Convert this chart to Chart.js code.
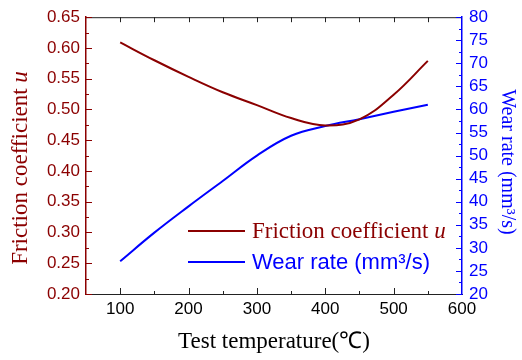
<!DOCTYPE html>
<html>
<head>
<meta charset="utf-8">
<script src="https://cdn.jsdelivr.net/npm/chart.js@4.4.0/dist/chart.umd.min.js"></script>
<style>
    html, body { margin: 0; padding: 0; background: #fff; }
    #chart { display: block; }
</style>
</head>
<body>
<canvas id="chart" width="522" height="360"></canvas>
<script>
// 数据
const temperatures = [100, 150, 200, 250, 300, 350, 400, 450, 500, 550];
const friction = [0.609, 0.580, 0.553, 0.528, 0.507, 0.486, 0.474, 0.484, 0.524, 0.579];
const wearRate = [27.1, 33.3, 39.0, 44.5, 50.0, 54.3, 56.4, 57.9, 59.5, 61.0];

const xTicks = [100, 200, 300, 400, 500, 600];
const frictionTicks = [0.20, 0.25, 0.30, 0.35, 0.40, 0.45, 0.50, 0.55, 0.60, 0.65];
const wearTicks = [20, 25, 30, 35, 40, 45, 50, 55, 60, 65, 70, 75, 80];

const RED = '#8b0000';
const BLUE = '#0000ff';
const SERIF = '"Liberation Serif", "Times New Roman", serif';
const SANS = '"Liberation Sans", Arial, sans-serif';

function setTicks(values) {
    return function(scale) {
        scale.ticks = values.map(v => ({ value: v }));
    };
}

// 刻度线、顶部边框、标题和图例
const decorations = {
    id: 'decorations',
    afterDraw(chart) {
        const ctx = chart.ctx;
        const area = chart.chartArea;
        const x = chart.scales.x;
        const y = chart.scales.y;
        const y1 = chart.scales.y1;

        ctx.save();
        ctx.lineWidth = 1;

        // 顶部边框
        ctx.strokeStyle = '#222';
        ctx.beginPath();
        ctx.moveTo(area.left, area.top + 0.5);
        ctx.lineTo(area.right, area.top + 0.5);
        ctx.stroke();

        // x轴刻度（底部和顶部，向内）
        for (let v = 100; v < 600; v += 50) {
            const px = Math.round(x.getPixelForValue(v)) + 0.5;
            const major = v % 100 === 0;
            ctx.strokeStyle = '#222';
            ctx.beginPath();
            ctx.moveTo(px, area.bottom);
            ctx.lineTo(px, area.bottom - (major ? 6 : 3));
            ctx.moveTo(px, area.top);
            ctx.lineTo(px, area.top + 5);
            ctx.stroke();
        }

        // 左轴刻度
        ctx.strokeStyle = RED;
        for (let i = 0; i < frictionTicks.length * 2 - 1; i++) {
            const v = frictionTicks[0] + i * 0.025;
            const py = Math.round(y.getPixelForValue(v)) + 0.5;
            ctx.beginPath();
            ctx.moveTo(area.left, py);
            ctx.lineTo(area.left + (i % 2 === 0 ? 6 : 3), py);
            ctx.stroke();
        }

        // 右轴刻度
        ctx.strokeStyle = BLUE;
        for (let i = 0; i < wearTicks.length * 2 - 1; i++) {
            const v = wearTicks[0] + i * 2.5;
            const py = Math.round(y1.getPixelForValue(v)) + 0.5;
            ctx.beginPath();
            ctx.moveTo(area.right, py);
            ctx.lineTo(area.right - (i % 2 === 0 ? 6 : 3), py);
            ctx.stroke();
        }

        // x轴标题
        ctx.fillStyle = '#000';
        ctx.font = '23px ' + SERIF;
        ctx.textAlign = 'center';
        ctx.textBaseline = 'middle';
        ctx.fillText('Test temperature(℃)', (area.left + area.right) / 2, 342);

        // 左轴标题（u 为斜体）
        ctx.fillStyle = RED;
        ctx.textAlign = 'left';
        ctx.textBaseline = 'alphabetic';
        ctx.translate(27, 168);
        ctx.rotate(-Math.PI / 2);
        ctx.font = '23px ' + SERIF;
        const part1 = 'Friction coefficient ';
        const w1 = ctx.measureText(part1).width;
        ctx.font = 'italic 23px ' + SERIF;
        const w2 = ctx.measureText('u').width;
        ctx.font = '23px ' + SERIF;
        ctx.fillText(part1, -(w1 + w2) / 2, 0);
        ctx.font = 'italic 23px ' + SERIF;
        ctx.fillText('u', -(w1 + w2) / 2 + w1, 0);
        ctx.setTransform(1, 0, 0, 1, 0, 0);

        // 右轴标题
        ctx.fillStyle = BLUE;
        ctx.font = '20px ' + SERIF;
        ctx.textAlign = 'center';
        ctx.translate(502, 162);
        ctx.rotate(Math.PI / 2);
        ctx.fillText('Wear rate (mm³/s)', 0, 0);
        ctx.setTransform(1, 0, 0, 1, 0, 0);

        // 图例
        ctx.lineWidth = 2;
        ctx.strokeStyle = RED;
        ctx.beginPath();
        ctx.moveTo(188, 231);
        ctx.lineTo(245, 231);
        ctx.stroke();
        ctx.strokeStyle = BLUE;
        ctx.beginPath();
        ctx.moveTo(188, 262);
        ctx.lineTo(245, 262);
        ctx.stroke();

        ctx.textAlign = 'left';
        ctx.textBaseline = 'middle';
        ctx.fillStyle = RED;
        ctx.font = '23px ' + SERIF;
        ctx.fillText(part1, 252, 232);
        ctx.font = 'italic 23px ' + SERIF;
        ctx.fillText('u', 252 + w1, 232);

        ctx.fillStyle = BLUE;
        ctx.font = '22px ' + SANS;
        ctx.fillText('Wear rate (mm³/s)', 252, 263);

        ctx.restore();
    }
};

new Chart(document.getElementById('chart'), {
    type: 'line',
    data: {
        datasets: [{
            label: 'Friction coefficient u',
            data: temperatures.map((t, i) => ({ x: t, y: friction[i] })),
            yAxisID: 'y',
            borderColor: RED,
            borderWidth: 2,
            pointRadius: 0,
            tension: 0.4
        }, {
            label: 'Wear rate (mm³/s)',
            data: temperatures.map((t, i) => ({ x: t, y: wearRate[i] })),
            yAxisID: 'y1',
            borderColor: BLUE,
            borderWidth: 2,
            pointRadius: 0,
            tension: 0.4
        }]
    },
    options: {
        responsive: false,
        animation: false,
        layout: { padding: { top: 14, left: 0, right: 0, bottom: 0 } },
        plugins: {
            legend: { display: false },
            tooltip: { enabled: false }
        },
        scales: {
            x: {
                type: 'linear',
                position: 'bottom',
                min: 50,
                max: 600,
                afterBuildTicks: setTicks(xTicks),
                afterFit: s => { s.height = 66; },
                grid: { display: false, drawTicks: false },
                border: { display: true, color: '#222', width: 1 },
                ticks: {
                    color: '#000',
                    padding: 5,
                    maxRotation: 0,
                    autoSkip: false,
                    font: { family: SANS, size: 17 }
                }
            },
            y: {
                position: 'left',
                min: 0.20,
                max: 0.65,
                afterBuildTicks: setTicks(frictionTicks),
                afterFit: s => { s.width = 86; },
                grid: { display: false, drawTicks: false },
                border: { display: true, color: RED, width: 1.5 },
                ticks: {
                    color: RED,
                    padding: 6,
                    autoSkip: false,
                    font: { family: SANS, size: 17 },
                    callback: v => v.toFixed(2)
                }
            },
            y1: {
                position: 'right',
                min: 20,
                max: 80,
                afterBuildTicks: setTicks(wearTicks),
                afterFit: s => { s.width = 60; },
                grid: { display: false, drawTicks: false },
                border: { display: true, color: BLUE, width: 1.5 },
                ticks: {
                    color: BLUE,
                    padding: 7,
                    autoSkip: false,
                    font: { family: SANS, size: 17 }
                }
            }
        }
    },
    plugins: [decorations]
});
</script>
</body>
</html>
